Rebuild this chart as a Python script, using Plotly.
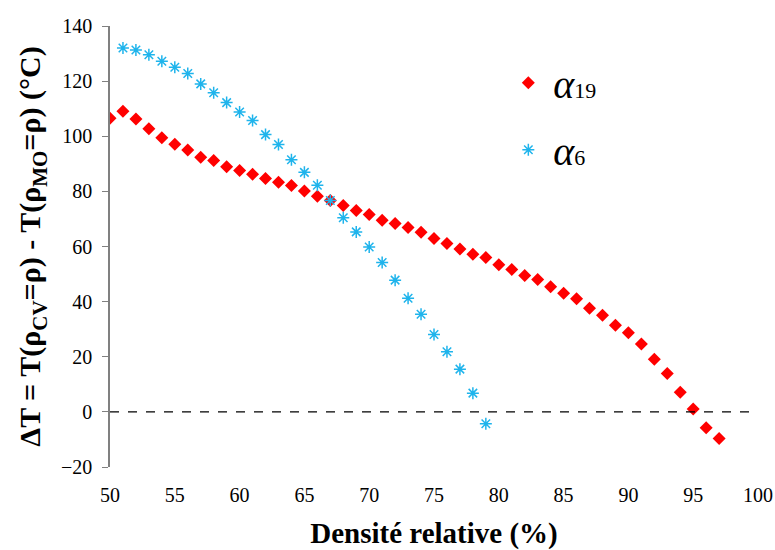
import plotly.graph_objects as go

x19 = list(range(50, 98))
y19 = [106.5, 109.1, 106.3, 102.7, 99.5, 97.1, 95.0, 92.4, 91.2, 88.9,
       87.6, 86.2, 84.7, 83.3, 82.1, 80.1, 78.2, 76.7, 74.9, 73.1,
       71.6, 69.5, 68.3, 66.9, 65.2, 62.9, 61.1, 59.1, 57.2, 56.0,
       53.4, 51.7, 49.5, 48.0, 45.4, 43.0, 41.0, 37.6, 35.1, 31.4,
       28.7, 24.6, 19.1, 13.9, 7.1, 1.0, -5.8, -9.7]

x6 = list(range(51, 80))
y6 = [132.0, 131.3, 129.6, 127.2, 125.0, 122.8, 119.0, 115.8, 112.2, 108.8,
      105.7, 100.6, 97.0, 91.5, 86.9, 82.2, 76.7, 70.4, 65.3, 59.8,
      54.2, 47.8, 41.2, 35.4, 28.1, 21.8, 15.5, 6.8, -4.3]

x_ticks = [50, 55, 60, 65, 70, 75, 80, 85, 90, 95, 100]
y_ticks = [-20, 0, 20, 40, 60, 80, 100, 120, 140]

font = "Liberation Serif"

fig = go.Figure()
fig.add_trace(go.Scatter(
    x=x19, y=y19, mode="markers", legendgroup="a19",
    name="<i>α</i><span style='font-size:22px'>19</span>",
    marker=dict(symbol="diamond", size=10, color="#FF0000"),
))
fig.add_trace(go.Scatter(
    x=x6, y=y6, mode="markers", legendgroup="a6",
    name="<i>α</i><span style='font-size:22px'>6</span>",
    marker=dict(symbol="asterisk-open", size=10, color="#1FB4EC",
                line=dict(color="#1FB4EC", width=1.5)),
))
fig.add_hline(y=0, line=dict(color="black", width=1.3, dash="dash"))

fig.update_layout(
    width=775, height=550,
    margin=dict(l=110, r=17, t=26, b=83),
    paper_bgcolor="white", plot_bgcolor="white",
    font=dict(family=font, color="black", size=20),
    showlegend=True,
    legend=dict(x=0.607, y=0.945, xanchor="left", yanchor="top",
                font=dict(size=40, family=font), tracegroupgap=12,
                bgcolor="rgba(0,0,0,0)", itemwidth=40),
    xaxis=dict(range=[50, 100], tickvals=x_ticks, showline=False,
               showgrid=False, zeroline=False, ticks="", automargin=False,
               ticklabeloverflow="allow", ticklabelstandoff=14,
               title=dict(text="<b>Densité relative (%)</b>",
                          font=dict(size=29, family=font), standoff=21),
               tickfont=dict(size=20, family=font)),
    yaxis=dict(range=[-20, 140], tickvals=y_ticks, showline=True,
               linecolor="#808080", linewidth=1.5, ticks="outside",
               tickcolor="#808080", ticklen=6, showgrid=False,
               zeroline=False, ticklabelstandoff=6, automargin=False,
               title=dict(text="<b>ΔT = T(ρ<sub>CV</sub>=ρ) - T(ρ<sub>MO</sub>=ρ) (°C)</b>",
                          font=dict(size=30, family=font), standoff=11),
               tickfont=dict(size=20, family=font)),
)

fig.write_html(
    "out.html",
    config={"displayModeBar": False},
    post_script="document.body.style.margin='0';document.body.style.overflow='hidden';",
)
